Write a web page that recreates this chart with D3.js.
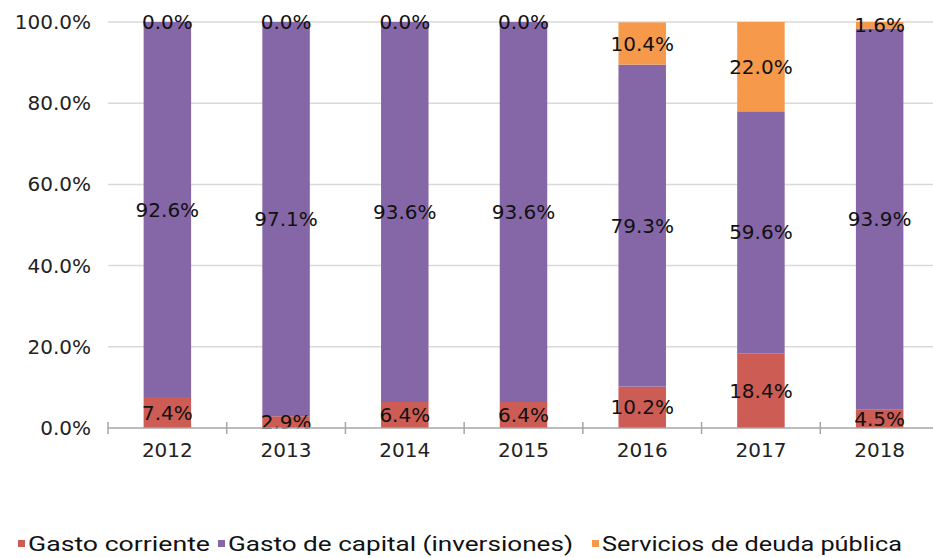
<!DOCTYPE html>
<html><head><meta charset="utf-8">
<script src="https://cdn.jsdelivr.net/npm/d3@7"></script>
<style>body{margin:0;background:#fff}svg{display:block}</style>
</head><body>
<svg id="c" width="933" height="558"></svg>
<script>
const years = ["2012","2013","2014","2015","2016","2017","2018"];
const gastoCorriente = [7.4, 2.9, 6.4, 6.4, 10.2, 18.4, 4.5];
const gastoCapital = [92.6, 97.1, 93.6, 93.6, 79.3, 59.6, 93.9];
const deudaPublica = [0.0, 0.0, 0.0, 0.0, 10.4, 22.0, 1.6];
const seriesNames = ["Gasto corriente", "Gasto de capital (inversiones)", "Servicios de deuda pública"];
const seriesColors = ["#cd5c55", "#8567a8", "#f7994b"];
const yTicks = [0, 20, 40, 60, 80, 100];

const svg = d3.select("#c");
const x = d3.scaleBand().domain(years).range([108, 939]).paddingInner(0.6).paddingOuter(0.3);
const y = d3.scaleLinear().domain([0, 100]).range([428, 22]);
const font = "'DejaVu Sans', sans-serif";

// gridlines
svg.append("g").selectAll("line").data(yTicks.filter(d => d > 0)).join("line")
  .attr("x1", 108).attr("x2", 933).attr("y1", d => y(d)).attr("y2", d => y(d))
  .attr("stroke", "#d9d9d9").attr("stroke-width", 1.5);

const rows = years.map((yr, i) => ({year: yr, v: [gastoCorriente[i], gastoCapital[i], deudaPublica[i]]}));
const stack = d3.stack().keys([0,1,2]).value((d, k) => d.v[k]);
const stacked = stack(rows);

const g = svg.append("g");
stacked.forEach((layer, k) => {
  g.selectAll(null).data(layer).join("rect")
    .attr("x", d => x(d.data.year)).attr("width", x.bandwidth())
    .attr("y", d => y(d[1])).attr("height", d => y(d[0]) - y(d[1]))
    .attr("fill", seriesColors[k]);
});

// x axis
const xAxisG = svg.append("g");
xAxisG.append("line").attr("x1", 108).attr("x2", 933).attr("y1", y(0)).attr("y2", y(0))
  .attr("stroke", "#a6a6a6").attr("stroke-width", 1.5);
const step = x.step();
const bounds = d3.range(0, 8).map(i => 108 + i * step);
xAxisG.selectAll("line.t").data(bounds).join("line").attr("class","t")
  .attr("x1", d => d).attr("x2", d => d).attr("y1", y(0) - 6).attr("y2", y(0) + 6)
  .attr("stroke", "#a6a6a6").attr("stroke-width", 1.5);
xAxisG.selectAll("text").data(years).join("text")
  .attr("x", d => x(d) + x.bandwidth()/2).attr("y", 457)
  .attr("text-anchor", "middle").attr("font-family", font).attr("font-size", 20)
  .attr("fill", "#222").text(d => d);

// y axis labels
svg.append("g").selectAll("text").data(yTicks).join("text")
  .attr("x", 91).attr("y", d => y(d) + 7).attr("text-anchor", "end")
  .attr("font-family", font).attr("font-size", 20).attr("fill", "#222")
  .text(d => d3.format(".1f")(d) + "%");

// data labels
stacked.forEach((layer, k) => {
  g.selectAll(null).data(layer).join("text")
    .attr("x", d => x(d.data.year) + x.bandwidth()/2)
    .attr("y", d => (y(d[0]) + y(d[1]))/2 + 7)
    .attr("text-anchor", "middle").attr("font-family", font).attr("font-size", 20)
    .attr("fill", "#111").text(d => d3.format(".1f")(d.data.v[k]) + "%");
});

// legend
const legX = [18, 218, 592];
const legW = [182, 345, 300];
const lg = svg.append("g");
seriesNames.forEach((n, i) => {
  lg.append("rect").attr("x", legX[i]).attr("y", 540).attr("width", 7).attr("height", 7).attr("fill", seriesColors[i]);
  lg.append("text").attr("x", legX[i] + 10).attr("y", 551)
    .attr("font-family", "'Liberation Sans Narrow', 'Roboto', sans-serif").attr("font-size", 21)
    .attr("fill", "#111").attr("textLength", legW[i]).attr("lengthAdjust", "spacingAndGlyphs").text(n);
});
</script>
</body></html>
